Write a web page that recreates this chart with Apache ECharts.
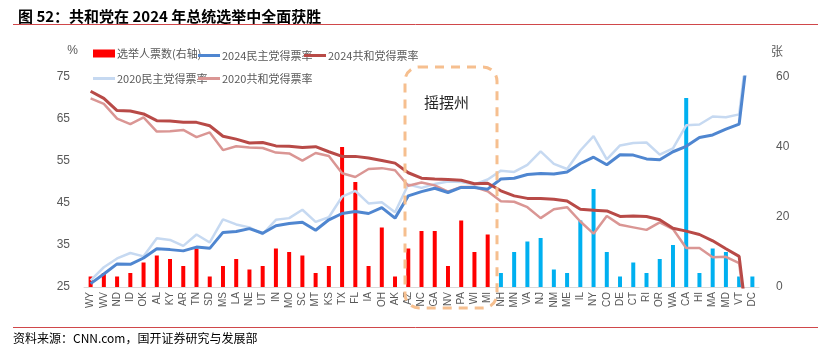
<!DOCTYPE html>
<html>
<head>
<meta charset="utf-8">
<script src="https://cdn.jsdelivr.net/npm/echarts@6/dist/echarts.min.js"></script>
<style>
    html, body { margin: 0; padding: 0; background: #fff; }
    #main { width: 823px; height: 352px; }
</style>
</head>
<body>
<div id="main"></div>
<script>
// 州（按2024共和党得票率排序）
const states = ['WY','WV','ND','ID','OK','AL','KY','AR','TN','SD','MS','LA','NE','UT','IN','MO','SC','MT','KS','TX','FL','IA','OH','AK',
    'AZ','NC','GA','NV','PA','WI','MI',
    'NH','MN','VA','NJ','NM','ME','IL','NY','CO','DE','CT','RI','OR','WA','CA','HI','MA','MD','VT','DC'];
// 选举人票数
const electoralVotes = [3,4,3,4,7,9,8,6,11,3,6,8,5,6,11,10,9,4,6,40,30,6,17,3,
    11,16,16,6,19,10,15,
    4,10,13,14,5,4,19,28,10,3,7,4,8,12,54,4,11,10,3,3];
// 共和党获胜的州数（前31个）
const repWinCount = 31;
const dem2024 = [25.8,28.1,30.5,30.4,31.9,34.1,33.9,33.6,34.5,34.2,38.0,38.2,38.9,37.8,39.6,40.1,40.4,38.5,41.0,42.5,43.0,42.5,43.9,41.4,
    46.7,47.7,48.5,47.5,48.7,48.7,48.3,
    50.7,50.9,51.8,52.0,51.9,52.4,54.4,55.9,54.1,56.5,56.4,55.5,55.3,57.2,58.5,60.6,61.2,62.6,63.8,90.3];
const rep2024 = [71.6,69.9,67.0,66.9,66.2,64.6,64.5,64.2,64.2,63.4,60.9,60.2,59.3,59.4,58.6,58.5,58.2,58.4,57.2,56.1,56.1,55.7,55.1,54.5,
    52.2,50.9,50.7,50.6,50.4,49.6,49.7,
    47.9,46.7,46.1,46.1,45.9,45.5,43.5,43.3,43.1,41.8,41.9,41.8,41.0,39.0,38.3,37.5,36.0,34.1,32.3,6.5];
const dem2020 = [26.6,29.7,31.8,33.1,32.3,36.6,36.2,34.8,37.5,35.6,41.1,39.9,39.2,37.6,41.0,41.4,43.4,40.5,41.6,46.5,47.9,44.9,45.2,42.8,
    49.4,48.6,49.5,50.1,50.0,49.4,50.6,
    52.7,52.4,54.1,57.3,54.3,53.1,57.5,60.9,55.4,58.7,59.3,59.4,56.5,58.0,63.5,63.7,65.6,65.4,66.1,92.1];
const rep2020 = [69.9,68.6,65.1,63.8,65.4,62.0,62.1,62.4,60.7,61.8,57.6,58.5,58.2,58.1,57.0,56.8,55.1,56.9,56.2,52.1,51.2,53.1,53.3,52.8,
    49.1,49.9,49.2,47.7,48.8,48.8,47.8,
    45.4,45.3,44.0,41.4,43.5,44.0,40.6,37.7,41.9,39.8,39.2,38.6,40.4,38.8,34.3,34.3,32.1,32.2,30.7,5.4];
// 左右轴刻度
const leftTicks = [25, 35, 45, 55, 65, 75];
const rightTicks = [0, 20, 40, 60];

const cnFont = '"Noto Sans CJK SC", "Noto Sans", sans-serif';
const gray = '#595959';

let myChart = echarts.init(document.getElementById('main'));

function lineSeries(name, data, color, width){
    return {
        name,
        type: 'line',
        yAxisIndex: 0,
        data,
        symbol: 'none',     //去掉点
        clip: true,
        lineStyle: { color, width },
        itemStyle: { color },
        z: 3
    };
}

// 图例逐项定位
const legendItems = [
    { name: '选举人票数(右轴)', left: 88, top: 43, h: 8 },
    { name: '2024民主党得票率', left: 193, top: 45, h: 3 },
    { name: '2024共和党得票率', left: 299, top: 45, h: 3 },
    { name: '2020民主党得票率', left: 88, top: 68, h: 3 },
    { name: '2020共和党得票率', left: 193, top: 68, h: 3 }
];

let option = {
    animation: false,
    title: {
        text: '图 52：共和党在 2024 年总统选举中全面获胜',
        left: 13,
        top: 4,
        textStyle: { fontFamily: cnFont, fontSize: 15, fontWeight: 'bold', color: '#000' }
    },
    legend: legendItems.map(it => ({
        data: [it.name],
        left: it.left,
        top: it.top,
        icon: 'rect',
        itemWidth: 22,
        itemHeight: it.h,
        itemGap: 0,
        textStyle: { fontFamily: cnFont, fontSize: 11, color: gray, padding: [0, 0, 0, -3] }
    })),
    grid: {     //设置图标位置
        left: 84,
        right: 64,
        top: 77,
        bottom: 65
    },
    xAxis: {
        type: 'category',
        data: states,
        axisTick: { show: false },
        axisLine: { lineStyle: { color: '#d9d9d9', width: 1 } },
        axisLabel: {
            rotate: 90,
            interval: 0,
            color: gray,
            fontSize: 10,
            margin: 5,
            fontFamily: '"Liberation Sans", sans-serif'
        }
    },
    yAxis: [
        {
            type: 'value',
            name: '%',
            nameLocation: 'end',
            nameGap: 20,
            nameTextStyle: { color: gray, fontSize: 12, align: 'right', padding: [0, 6, 0, 0] },
            min: leftTicks[0],
            max: leftTicks[leftTicks.length - 1],
            interval: 10,
            axisLine: { show: false },
            axisTick: { show: false },
            splitLine: { show: false },
            axisLabel: { color: gray, fontSize: 12, margin: 14 }
        },
        {
            type: 'value',
            name: '张',
            nameLocation: 'end',
            nameGap: 20,
            nameTextStyle: { color: gray, fontSize: 12, fontFamily: cnFont, align: 'left', padding: [0, 0, 0, 12] },
            min: rightTicks[0],
            max: rightTicks[rightTicks.length - 1],
            interval: 20,
            axisLine: { show: false },
            axisTick: { show: false },
            splitLine: { show: false },
            axisLabel: { color: gray, fontSize: 12, margin: 17 }
        }
    ],
    graphic: [
        // 标题下划线
        { type: 'line', shape: { x1: 13, y1: 24.5, x2: 818, y2: 24.5 }, style: { stroke: '#d0474a', lineWidth: 1 } },
        // 底部线
        { type: 'line', shape: { x1: 13, y1: 327.5, x2: 818, y2: 327.5 }, style: { stroke: '#d0474a', lineWidth: 1 } },
        {
            type: 'text', left: 13, top: 332,
            style: { text: '资料来源：CNN.com，国开证券研究与发展部', font: '12px ' + cnFont, fill: '#000' }
        },
        // 摇摆州框
        {
            type: 'rect',
            shape: { x: 405, y: 67, width: 92, height: 241, r: 14 },
            style: { fill: 'none', stroke: '#f6bf8f', lineWidth: 3, lineDash: [9, 7] },
            z: 10
        },
        {
            type: 'text', left: 424, top: 95,
            style: { text: '摇摆州', font: '15px ' + cnFont, fill: '#262626' },
            z: 10
        }
    ],
    series: [
        {
            name: '选举人票数(右轴)',
            type: 'bar',
            yAxisIndex: 1,
            data: electoralVotes,
            barWidth: 4,
            itemStyle: {
                color: p => p.dataIndex < repWinCount ? '#ff0000' : '#00b0f0'
            },
            z: 2
        },
        lineSeries('2020民主党得票率', dem2020, '#c6d9f1', 2.5),
        lineSeries('2020共和党得票率', rep2020, '#da9694', 2.5),
        lineSeries('2024民主党得票率', dem2024, '#4f86d0', 3),
        lineSeries('2024共和党得票率', rep2024, '#b84a47', 3)
    ]
};

// 图例中柱子颜色用红色
option.legend[0].data = [{ name: '选举人票数(右轴)', itemStyle: { color: '#ff0000' } }];

myChart.setOption(option);
</script>
</body>
</html>
